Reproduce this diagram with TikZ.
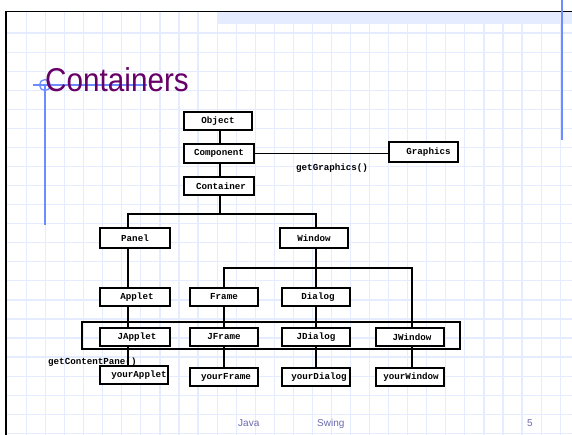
\documentclass[tikz,border=0pt]{standalone}
\usepackage{fontspec}
\setmainfont{Liberation Sans}
\newfontfamily\monob{Liberation Mono}
\definecolor{gridc}{HTML}{E6ECFF}
\definecolor{decob}{HTML}{6F8CFF}
\definecolor{titlec}{HTML}{660066}
\definecolor{footc}{HTML}{6B6BB0}
\tikzset{
  gridline/.style={draw=gridc, line width=1.2pt},
  box/.style={draw, line width=1.5pt, fill=white, inner sep=0pt, minimum height=18pt,
    minimum width=68pt, font=\monob\bfseries\fontsize{9.2}{10}\selectfont},
  conn/.style={line width=1.5pt},
  lbl/.style={inner sep=0pt, font=\monob\bfseries\fontsize{9.2}{10}\selectfont},
  foot/.style={inner sep=0pt, text=footc, font=\fontsize{10}{12}\selectfont},
  deco/.style={draw=decob, line width=1.3pt}
}
\begin{document}
\begin{tikzpicture}[x=1pt,y=-1pt]
\useasboundingbox (0,0) rectangle (572,435);
\clip (0,0) rectangle (572,435);
\fill[white] (0,0) rectangle (572,435);
% grid
\foreach \i in {0,...,29} \draw[gridline] ({26.5+19.06*\i},12) -- ({26.5+19.06*\i},435);
\foreach \j in {1,...,22} \draw[gridline] (6,{14+19.06*\j}) -- (572,{14+19.06*\j});
\fill[gridc] (217,12) rectangle (572,24);
% slide border
\draw[line width=1.5pt] (6,435) -- (6,11.5) -- (572,11.5);
% decorations
\draw[deco] (562,0) -- (562,140);
\draw[deco] (33,85) -- (147,85);
\draw[deco] (45,85) circle (5.5);
\draw[deco] (45,85) -- (45,225);
% title
\node[anchor=base west, inner sep=0pt, text=titlec, font=\fontsize{33}{36}\selectfont] (title) at (45,92) {\scalebox{0.9}[1]{Containers}};
% footer
\node[foot, anchor=base west] (java) at (238,426) {Java};
\node[foot, anchor=base west] (swing) at (317,426) {Swing};
\node[foot, anchor=base west] (page) at (527,426) {5};
% column coordinates
\coordinate (vC) at (220,0);
\coordinate (vP) at (128,0);
\coordinate (vF) at (224,0);
\coordinate (vW) at (316,0);
\coordinate (vJW) at (412,0);
\coordinate (hub1) at (220,214);
\coordinate (hub2) at (316,268);
% nodes
\node[box] (Object) at (218,121) {Object};
\node[box, minimum width=70pt, minimum height=19pt] (Component) at (219,153.5) {Component};
\node[box, minimum width=70pt] (Container) at (219,186) {\hspace*{4pt}Container};
\node[box, minimum width=69pt, minimum height=20pt] (Graphics) at (423.5,152) {\hspace*{10pt}Graphics};
\node[box, minimum width=70pt, minimum height=20pt] (Panel) at (135,238) {Panel};
\node[box, minimum height=20pt] (Window) at (314,238) {Window};
\node[box, minimum width=70pt] (Applet) at (135,297) {\hspace*{4pt}Applet};
\node[box] (Frame) at (224,297) {Frame};
\node[box] (Dialog) at (316,297) {\hspace*{4pt}Dialog};
\node[draw, line width=1.5pt, inner sep=0pt, minimum width=378pt, minimum height=27pt] (JGroup) at (271,335.5) {};
\node[box, minimum width=70pt] (JApplet) at (135,337) {\hspace*{4pt}JApplet};
\node[box] (JFrame) at (224,337) {JFrame};
\node[box] (JDialog) at (316,337) {JDialog};
\node[box] (JWindow) at (410,337) {\hspace*{4pt}JWindow};
\node[box] (yourApplet) at (134,375) {\hspace*{10pt}yourApplet};
\node[box] (yourFrame) at (224,377) {\hspace*{4pt}yourFrame};
\node[box] (yourDialog) at (316,377) {\hspace*{6pt}yourDialog};
\node[box] (yourWindow) at (410,377) {\hspace*{2pt}yourWindow};
% labels
\node[lbl, anchor=base west] (getG) at (296,171) {getGraphics()};
\node[lbl, anchor=base west] (getCP) at (48,364) {getContentPane()};
% connectors
\draw[conn] (Object.south -| vC) -- (Component.north -| vC);
\draw[conn] (Component.south -| vC) -- (Container.north -| vC);
\draw[conn] (Component.east) -- (Graphics.west |- Component.east);
\draw[conn] (Container.south -| vC) -- (hub1);
\draw[conn] (Panel.north -| vP) |- (hub1) -| (Window.north -| vW);
\draw[conn] (Window.south -| vW) -- (hub2);
\draw[conn] (Frame.north -| vF) |- (hub2) -| (JWindow.north -| vJW);
\draw[conn] (hub2) -- (Dialog.north -| vW);
\draw[conn] (Panel.south -| vP) -- (Applet.north -| vP);
\draw[conn] (Applet.south -| vP) -- (JApplet.north -| vP);
\draw[conn] (Frame.south -| vF) -- (JFrame.north -| vF);
\draw[conn] (Dialog.south -| vW) -- (JDialog.north -| vW);
\draw[conn] (JApplet.south -| vP) -- (yourApplet.north -| vP);
\draw[conn] (JFrame.south -| vF) -- (yourFrame.north -| vF);
\draw[conn] (JDialog.south -| vW) -- (yourDialog.north -| vW);
\draw[conn] (JWindow.south -| vJW) -- (yourWindow.north -| vJW);
\end{tikzpicture}
\end{document}
